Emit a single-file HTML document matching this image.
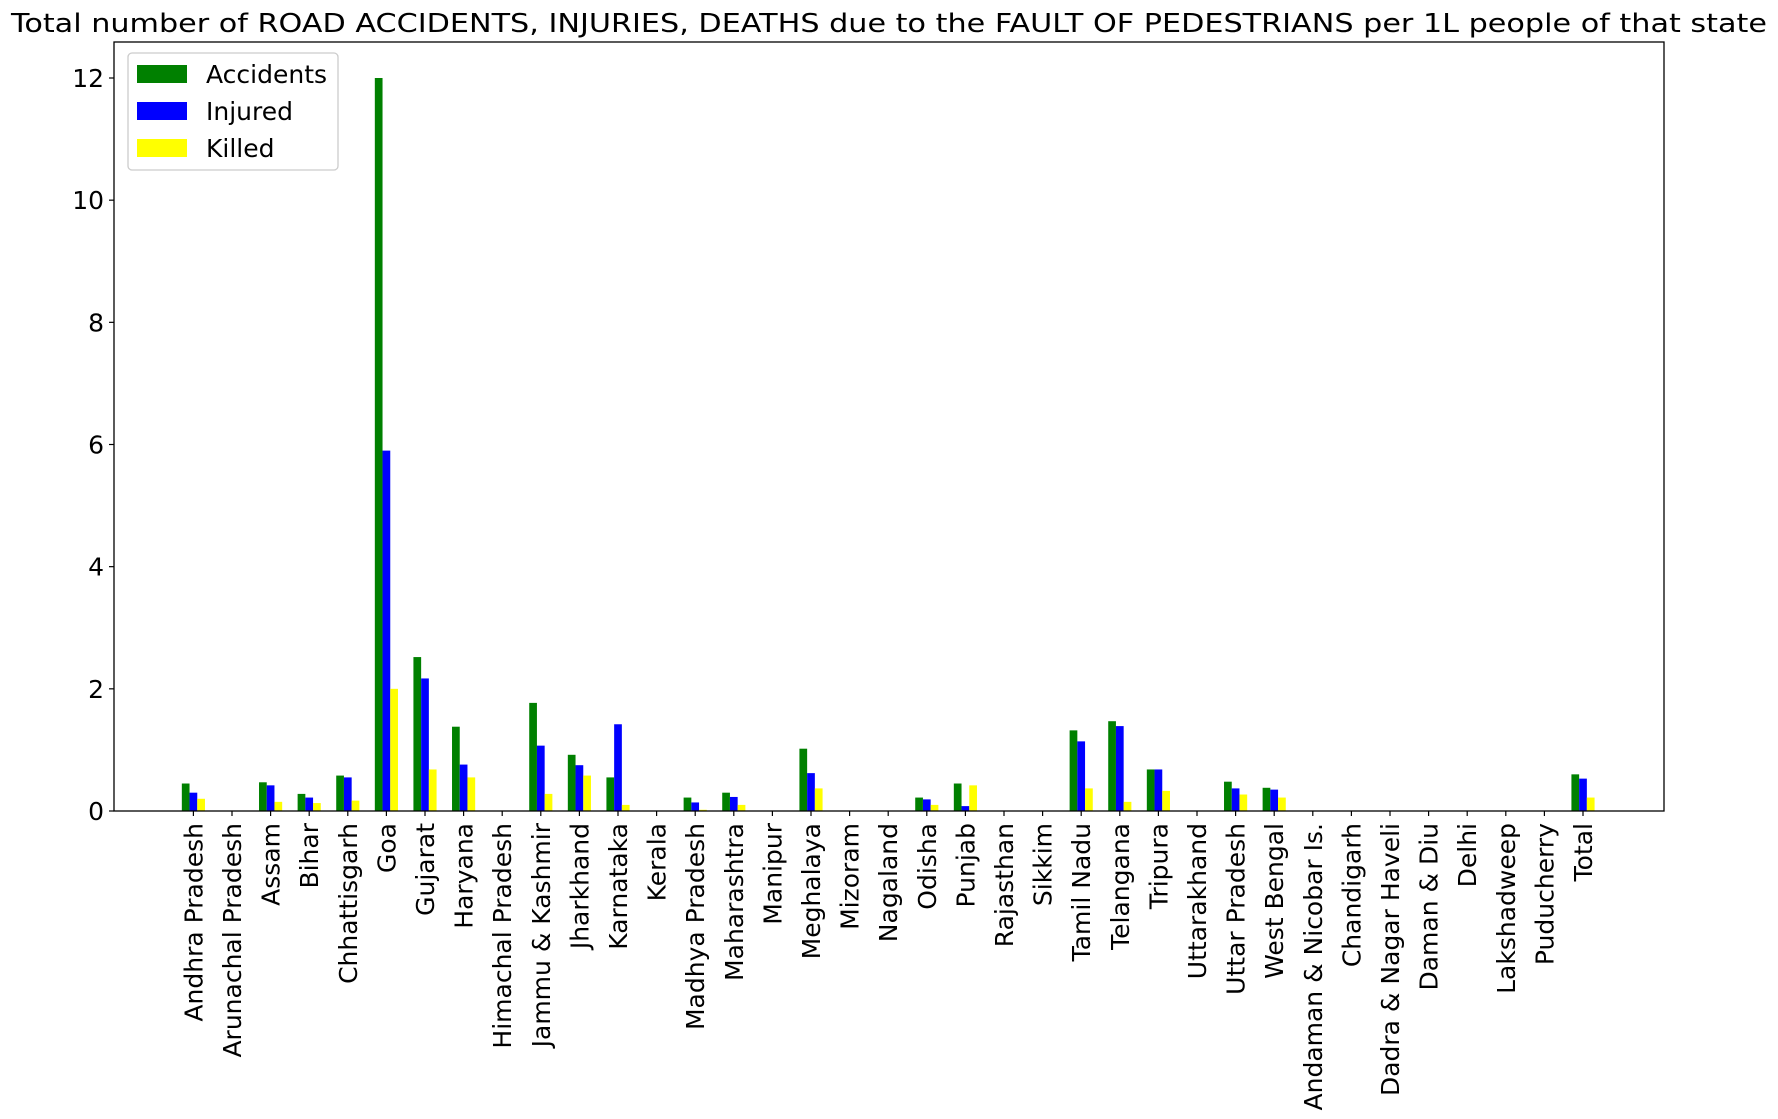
<!DOCTYPE html>
<html><head><meta charset="utf-8"><style>
html,body{margin:0;padding:0;background:#fff;}
svg{display:block;font-family:"DejaVu Sans","Liberation Sans",sans-serif;}
</style></head><body>
<svg id="chart" width="1778" height="1119" xmlns="http://www.w3.org/2000/svg">
<text x="889" y="32" font-size="26" text-anchor="middle" textLength="1756" lengthAdjust="spacingAndGlyphs">Total number of ROAD ACCIDENTS, INJURIES, DEATHS due to the FAULT OF PEDESTRIANS per 1L people of that state</text>
<g id="marks"></g>
<g id="axes"></g>
<rect x="114" y="42" width="1550" height="769" fill="none" stroke="#000" stroke-width="1.3"/>
<g>
<rect x="128" y="53" width="210" height="117" rx="4" fill="#fff" fill-opacity="0.8" stroke="#ccc" stroke-width="1.3"/>
<g><rect x="137" y="65" width="50" height="18" fill="#008000"/><text x="206" y="83" font-size="25">Accidents</text></g>
<g><rect x="137" y="102" width="50" height="18" fill="#0000ff"/><text x="206" y="120" font-size="25">Injured</text></g>
<g><rect x="137" y="139" width="50" height="18" fill="#ffff00"/><text x="206" y="157" font-size="25">Killed</text></g>
</g>
</svg>
<script>
const categories = ["Andhra Pradesh","Arunachal Pradesh","Assam","Bihar","Chhattisgarh","Goa","Gujarat","Haryana","Himachal Pradesh","Jammu & Kashmir","Jharkhand","Karnataka","Kerala","Madhya Pradesh","Maharashtra","Manipur","Meghalaya","Mizoram","Nagaland","Odisha","Punjab","Rajasthan","Sikkim","Tamil Nadu","Telangana","Tripura","Uttarakhand","Uttar Pradesh","West Bengal","Andaman & Nicobar Is.","Chandigarh","Dadra & Nagar Haveli","Daman & Diu","Delhi","Lakshadweep","Puducherry","Total"];
const accidents = [0.45,0,0.47,0.28,0.58,12.0,2.52,1.38,0,1.77,0.92,0.55,0,0.22,0.30,0,1.02,0,0,0.22,0.45,0,0,1.32,1.47,0.68,0,0.48,0.38,0,0,0,0,0,0,0,0.60];
const injured = [0.30,0,0.42,0.22,0.55,5.9,2.17,0.76,0,1.07,0.75,1.42,0,0.14,0.23,0,0.62,0,0,0.19,0.08,0,0,1.14,1.39,0.68,0,0.37,0.35,0,0,0,0,0,0,0,0.53];
const killed = [0.20,0,0.15,0.13,0.17,2.0,0.68,0.55,0,0.28,0.58,0.10,0,0.02,0.10,0,0.37,0,0,0.10,0.42,0,0,0.37,0.15,0.33,0,0.27,0.22,0,0,0,0,0,0,0,0.22];
const yTicks = [0,2,4,6,8,10,12];

const NS = "http://www.w3.org/2000/svg";
const X0 = 114, X1 = 1664, Y0 = 811, Y12 = 78;
const n = categories.length;
const step = 38.6;
const firstX = 1583 - (n - 1) * step;
function xPos(i){ return firstX + i * step; }
function yPos(v){ return Y0 - v * (Y0 - Y12) / 12; }
const bw = step * 0.2;
const marks = document.getElementById('marks');
const axes = document.getElementById('axes');
const series = [[accidents,'#008000',-1,'accidents'],[injured,'#0000ff',0,'injured'],[killed,'#ffff00',1,'killed']];
series.forEach(s => {
  s[0].forEach((v, i) => {
    if (v <= 0) return;
    const r = document.createElementNS(NS, 'rect');
    
    
    const cx = xPos(i) + s[2] * bw;
    r.setAttribute('x', cx - bw / 2);
    r.setAttribute('width', bw);
    r.setAttribute('y', yPos(v));
    r.setAttribute('height', Y0 - yPos(v));
    r.setAttribute('fill', s[1]);
    marks.appendChild(r);
  });
});
yTicks.forEach(t => {
  const y = yPos(t);
  const l = document.createElementNS(NS, 'line');
  
  
  l.setAttribute('x1', X0 - 5); l.setAttribute('x2', X0);
  l.setAttribute('y1', y); l.setAttribute('y2', y);
  l.setAttribute('stroke', '#000'); l.setAttribute('stroke-width', '1.2');
  axes.appendChild(l);
  const tx = document.createElementNS(NS, 'text');
  
  
  tx.setAttribute('x', X0 - 10); tx.setAttribute('y', y + 9);
  tx.setAttribute('font-size', '25'); tx.setAttribute('text-anchor', 'end');
  tx.textContent = String(t);
  axes.appendChild(tx);
});
categories.forEach((c, i) => {
  const x = xPos(i);
  const l = document.createElementNS(NS, 'line');
  
  
  l.setAttribute('x1', x); l.setAttribute('x2', x);
  l.setAttribute('y1', Y0); l.setAttribute('y2', Y0 + 5);
  l.setAttribute('stroke', '#000'); l.setAttribute('stroke-width', '1.2');
  axes.appendChild(l);
  const tx = document.createElementNS(NS, 'text');
  
  
  tx.setAttribute('font-size', '25'); tx.setAttribute('text-anchor', 'end');
  tx.setAttribute('transform', 'translate(' + (x + 9) + ',' + (Y0 + 12) + ') rotate(-90)');
  tx.textContent = c;
  axes.appendChild(tx);
});
</script>
</body></html>
